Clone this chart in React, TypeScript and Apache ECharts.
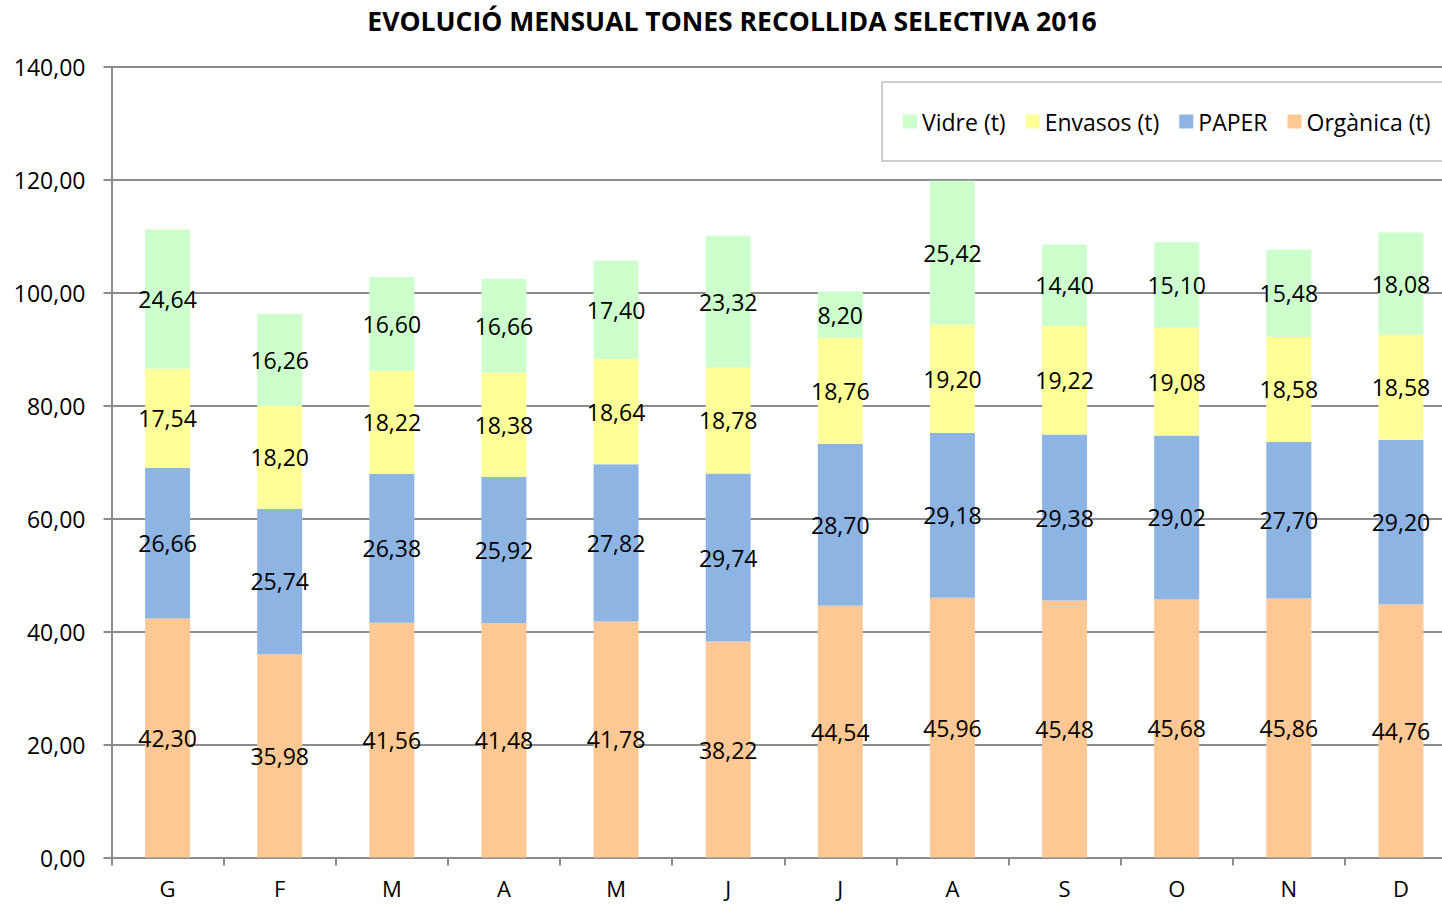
import React, { useEffect, useRef } from "react";
import * as echarts from "echarts";

const TITLE = "EVOLUCIÓ MENSUAL TONES RECOLLIDA SELECTIVA 2016";
const months = ["G", "F", "M", "A", "M", "J", "J", "A", "S", "O", "N", "D"];
const organica = [42.3, 35.98, 41.56, 41.48, 41.78, 38.22, 44.54, 45.96, 45.48, 45.68, 45.86, 44.76];
const paper = [26.66, 25.74, 26.38, 25.92, 27.82, 29.74, 28.7, 29.18, 29.38, 29.02, 27.7, 29.2];
const envasos = [17.54, 18.2, 18.22, 18.38, 18.64, 18.78, 18.76, 19.2, 19.22, 19.08, 18.58, 18.58];
const vidre = [24.64, 16.26, 16.6, 16.66, 17.4, 23.32, 8.2, 25.42, 14.4, 15.1, 15.48, 18.08];
const seriesNames = ["Orgànica (t)", "PAPER", "Envasos (t)", "Vidre (t)"];
const legendOrder = ["Vidre (t)", "Envasos (t)", "PAPER", "Orgànica (t)"];
const colors = ["#FDC893", "#8EB4E3", "#FFFF99", "#CCFFCC"];

const FONT = "'Open Sans', sans-serif";
const fmt = (v: number) => v.toFixed(2).replace(".", ",");

export default function App() {
  const ref = useRef<HTMLDivElement>(null);
  useEffect(() => {
    if (!ref.current) return;
    const chart = echarts.init(ref.current, null, { renderer: "svg" });
    const data = [organica, paper, envasos, vidre];
    chart.setOption({
      animation: false,
      backgroundColor: "#fff",
      textStyle: { fontFamily: FONT },
      grid: { left: 111.5, right: 13, top: 66.5, bottom: 46.5, containLabel: false },
      graphic: [
        {
          type: "text",
          x: 732,
          y: 21,
          style: {
            text: TITLE,
            textAlign: "center",
            textVerticalAlign: "middle",
            fontFamily: FONT,
            fontWeight: "bold",
            fontSize: 26.5,
            fill: "#000",
          },
        },
        {
          type: "rect",
          z: -1,
          shape: { x: 882, y: 82, width: 700, height: 79 },
          style: { fill: "#fff", stroke: "#bfbfbf", lineWidth: 1.5 },
        },
      ],
      legend: {
        data: legendOrder,
        left: 903,
        top: 109,
        padding: 0,
        itemWidth: 14,
        itemHeight: 14,
        itemGap: 20,
        icon: "rect",
        textStyle: { fontFamily: FONT, fontSize: 23, color: "#000", lineHeight: 25 },
      },
      xAxis: {
        type: "category",
        data: months,
        axisLine: { lineStyle: { color: "#8c8c8c", width: 2 } },
        axisTick: { show: true, length: 8, lineStyle: { color: "#8c8c8c", width: 2 } },
        axisLabel: { color: "#000", fontSize: 22, lineHeight: 22, fontFamily: FONT, margin: 19 },
      },
      yAxis: {
        type: "value",
        min: 0,
        max: 140,
        interval: 20,
        axisLine: { show: true, lineStyle: { color: "#8c8c8c", width: 2 } },
        axisTick: { show: true, length: 8, lineStyle: { color: "#8c8c8c", width: 2 } },
        splitLine: { show: true, lineStyle: { color: "#8c8c8c", width: 2 } },
        axisLabel: {
          color: "#000",
          fontSize: 23,
          fontFamily: FONT,
          margin: 26,
          formatter: (v: number) => fmt(v),
        },
      },
      series: seriesNames.map((name, i) => ({
        name,
        type: "bar",
        stack: "total",
        barWidth: 45,
        data: data[i],
        itemStyle: { color: colors[i] },
        label: {
          show: true,
          position: "inside",
          color: "#000",
          fontSize: 23,
          fontFamily: FONT,
          formatter: (p: any) => fmt(p.value),
        },
      })),
    });
    return () => chart.dispose();
  }, []);
  return (
    <div style={{ position: "fixed", left: 0, top: 0, width: 1442, height: 904, overflow: "hidden", background: "#fff" }}>
      <div ref={ref} style={{ width: 1470, height: 904 }} />
    </div>
  );
}
